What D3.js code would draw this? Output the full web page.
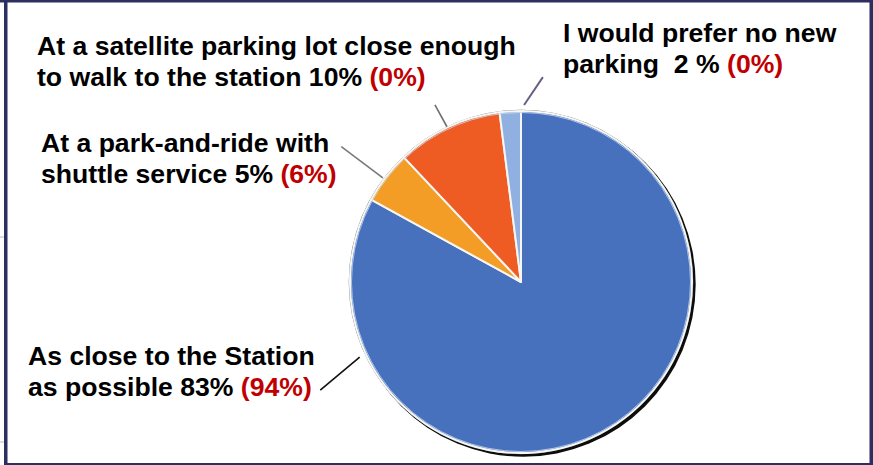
<!DOCTYPE html>
<html>
<head>
<meta charset="utf-8">
<script src="https://cdn.jsdelivr.net/npm/d3@7"></script>
<style>
  html, body { margin: 0; padding: 0; background: #fff; }
  svg { display: block; }
  text { font-family: "Liberation Sans", Arial, sans-serif; font-weight: bold; font-size: 26.6px; white-space: pre; }
</style>
</head>
<body>
<div id="chart"></div>
<script>
// survey answers, in pie order (clockwise from 12 o'clock)
const categories = ["As close to the Station as possible", "At a park-and-ride with shuttle service",
  "At a satellite parking lot close enough to walk to the station", "I would prefer no new parking"]
const shares = [83, 5, 10, 2]
const priorShares = [94, 6, 0, 0]
const sliceColors = ["#4770bd", "#f39d27", "#ee5c24", "#8fb0e0"]

// label text, split the way the slide does it ({v} = share)
const labelLines = [
  ["As close to the Station", "as possible {v}%"],
  ["At a park-and-ride with", "shuttle service {v}%"],
  ["At a satellite parking lot close enough", "to walk to the station {v}%"],
  ["I would prefer no new", "parking  {v} %"]
]

const W = 873, H = 465
const cx = 521, cy = 282, R = 171

const svg = d3.select("#chart").append("svg")
  .attr("width", W)
  .attr("height", H)

svg.append("rect").attr("width", W).attr("height", H).attr("fill", "#fff")

// slide frame
const navy = "#2c2f5f"
svg.append("rect").attr("x", 0).attr("y", 0).attr("width", W).attr("height", 2.5).attr("fill", navy)
svg.append("rect").attr("x", 4).attr("y", 0).attr("width", 3.5).attr("height", H).attr("fill", navy)
svg.append("rect").attr("x", 869.5).attr("y", 0).attr("width", 3.5).attr("height", H).attr("fill", navy)
svg.append("rect").attr("x", 4).attr("y", 463).attr("width", W).attr("height", 2).attr("fill", navy)
svg.append("line").attr("x1", 0).attr("x2", 4).attr("y1", 237).attr("y2", 237).attr("stroke", "#bbb")
svg.append("line").attr("x1", 0).attr("x2", 4).attr("y1", 442).attr("y2", 442).attr("stroke", "#bbb")

// pie
const pie = d3.pie().sort(null).value(d => d)
const arcs = pie(shares)
const arc = d3.arc().innerRadius(0).outerRadius(R)

const g = svg.append("g").attr("transform", `translate(${cx},${cy})`)

// drop shadow on the lower right edge
g.append("circle")
  .attr("cx", 2.2).attr("cy", 2.2).attr("r", R + 1.5)
  .attr("fill", "#0d0d0d")
g.append("circle")
  .attr("r", R + 0.8)
  .attr("fill", "none")
  .attr("stroke", "#777")
  .attr("stroke-width", 1)

g.selectAll("path.slice")
  .data(arcs)
  .join("path")
  .attr("class", "slice")
  .attr("d", arc)
  .attr("fill", (d, i) => sliceColors[i])
  .attr("stroke", "#f6f6f2")
  .attr("stroke-width", 2)
  .attr("stroke-linejoin", "round")

// light rim just inside the edge
g.append("circle")
  .attr("r", R - 1.5)
  .attr("fill", "none")
  .attr("stroke", "#c8d8f2")
  .attr("stroke-width", 1)
  .attr("opacity", 0.8)

// leader lines: angle (deg from 12 o'clock, clockwise), inner / outer radius
const leaders = [
  { a1: 245, r1: 178, a2: 241.7, r2: 228, color: "#111", w: 1.6 },
  { a1: -53, r1: 173, a2: -53, r2: 225, color: "#7a7a7a", w: 1.6 },
  { a1: -25.5, r1: 172, a2: -25.9, r2: 197, color: "#6f6f6f", w: 1.6 },
  { a1: 1, r1: 177, a2: 6.1, r2: 206, color: "#6a5f80", w: 2 }
]
const rad = Math.PI / 180
g.selectAll("line.leader")
  .data(leaders)
  .join("line")
  .attr("class", "leader")
  .each(function (d) {
    const p1 = d3.pointRadial(d.a1 * rad, d.r1)
    const p2 = d3.pointRadial(d.a2 * rad, d.r2)
    d3.select(this)
      .attr("x1", p1[0]).attr("y1", p1[1])
      .attr("x2", p2[0]).attr("y2", p2[1])
  })
  .attr("stroke", d => d.color)
  .attr("stroke-width", d => d.w)

// labels
const labelPos = [
  { x: 28, y: 365 },
  { x: 41, y: 152 },
  { x: 37, y: 55 },
  { x: 563, y: 42 }
]
const lineGap = 31

categories.forEach(function (c, i) {
  const t = svg.append("text")
    .attr("x", labelPos[i].x)
    .attr("y", labelPos[i].y)
    .attr("fill", "#000")
  t.append("tspan")
    .attr("x", labelPos[i].x)
    .text(labelLines[i][0])
  t.append("tspan")
    .attr("x", labelPos[i].x)
    .attr("dy", lineGap)
    .text(labelLines[i][1].replace("{v}", shares[i]) + " ")
  t.append("tspan")
    .attr("fill", "#c00000")
    .text("(" + priorShares[i] + "%)")
})
</script>
</body>
</html>
